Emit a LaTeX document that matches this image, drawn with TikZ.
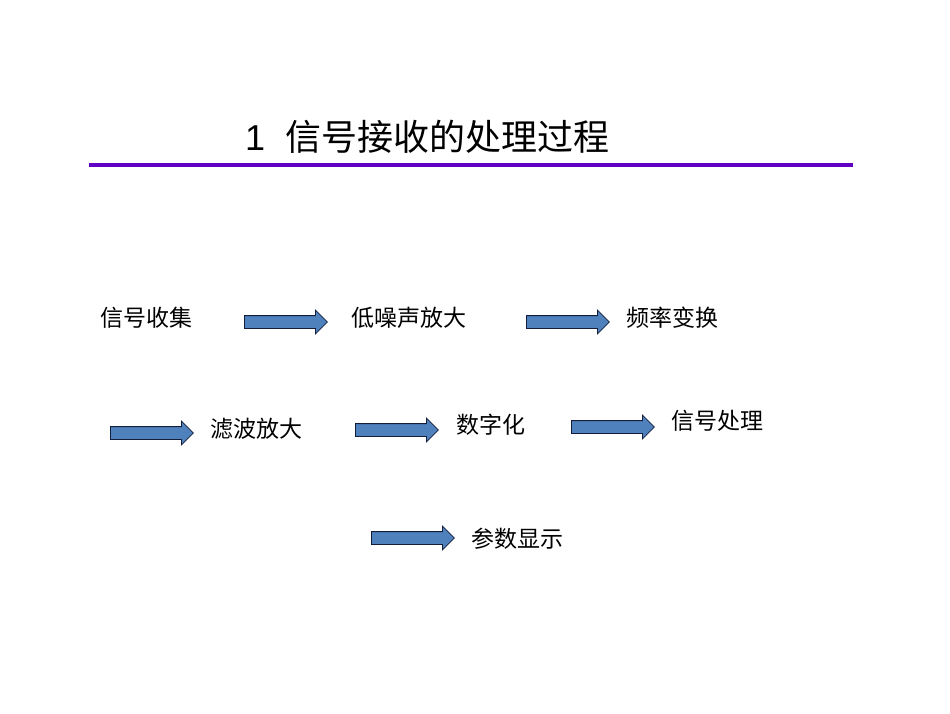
\documentclass[tikz,border=0pt]{standalone}
\usepackage{fontspec}
\setmainfont{Liberation Sans}
\newfontfamily\cjk{Noto Sans CJK SC}
\usetikzlibrary{shapes.arrows}
\definecolor{barpurple}{RGB}{96,0,196}
\definecolor{arrowfill}{RGB}{79,129,189}
\definecolor{arrowline}{RGB}{20,30,60}
\begin{document}
\begin{tikzpicture}[x=1pt,y=-1pt,
  blockarrow/.style={single arrow, draw=arrowline, fill=arrowfill, line width=0.8pt,
    minimum height=83pt, single arrow head extend=5.5pt,
    inner sep=0pt, anchor=west},
  lbl/.style={anchor=west, inner sep=0pt, font=\cjk\fontsize{23}{26}\selectfont}]
\useasboundingbox (0,0) rectangle (950,713);
\node[anchor=west, inner sep=0pt, font=\fontsize{36}{40}\selectfont] (title) at (245,137) {1\ \ {\cjk 信号接收的处理过程}};
\draw[barpurple, line width=4pt] (89,165) coordinate (l1) -- (853,165) coordinate (l2);
\node[lbl] (t1) at (100,318) {信号收集};
\node[blockarrow] (a1) at (244,322) {\rule{0pt}{12pt}};
\node[lbl] (t2) at (351,318) {低噪声放大};
\node[blockarrow] (a2) at (526,322) {\rule{0pt}{12pt}};
\node[lbl] (t3) at (626,318) {频率变换};
\node[blockarrow] (a3) at (110,433) {\rule{0pt}{12pt}};
\node[lbl] (t4) at (210,429) {滤波放大};
\node[blockarrow] (a4) at (355,430) {\rule{0pt}{12pt}};
\node[lbl] (t5) at (456,425) {数字化};
\node[blockarrow] (a5) at (571,427) {\rule{0pt}{12pt}};
\node[lbl] (t6) at (671,421) {信号处理};
\node[blockarrow] (a6) at (371,538) {\rule{0pt}{12pt}};
\node[lbl] (t7) at (471,539) {参数显示};
\end{tikzpicture}
\end{document}
